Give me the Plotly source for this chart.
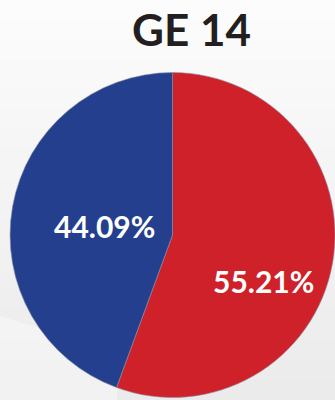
import plotly.graph_objects as go

# Vote share, GE 14
parties = ["Red", "Blue"]
shares = [55.21, 44.09]
colors = ["#cf2129", "#243f8e"]
title_text = "GE 14"

W, H = 335, 400

fig = go.Figure()

fig.add_trace(go.Pie(
    labels=parties,
    values=shares,
    marker=dict(colors=colors, line=dict(color="#8a8fa8", width=0.6)),
    sort=False,
    direction="clockwise",
    rotation=0,
    textinfo="none",
    hoverinfo="label+value",
    showlegend=False,
    domain=dict(x=[0.03, 1.0], y=[0.0, 0.825]),
))

# soft vertical background gradient
shapes = []
n = 40
top = (252, 252, 252)
bot = (235, 235, 235)
for i in range(n):
    t = i / (n - 1)
    c = tuple(round(top[k] + (bot[k] - top[k]) * t) for k in range(3))
    shapes.append(dict(
        type="rect", xref="paper", yref="paper", layer="below",
        x0=0, x1=1, y0=1 - (i + 1) / n, y1=1 - i / n + 0.002,
        line=dict(width=0), fillcolor="rgb(%d,%d,%d)" % c,
    ))
# faint diagonal sheen at lower left
shapes.append(dict(
    type="path", xref="paper", yref="paper", layer="below",
    path="M 0 0.21 L 0.35 0.12 L 0.35 0 L 0 0 Z",
    line=dict(width=0), fillcolor="rgba(255,255,255,0.35)",
))

annotations = [
    dict(text=title_text, x=0.573, y=0.927, xref="paper", yref="paper",
         showarrow=False, xanchor="center", yanchor="middle",
         font=dict(family="Lato", size=44, color="#231f20", weight="bold")),
    dict(text=f"{shares[0]:.2f}%", x=0.788, y=0.297, xref="paper", yref="paper",
         showarrow=False, xanchor="center", yanchor="middle",
         font=dict(family="Lato", size=30, color="white", weight="bold")),
    dict(text=f"{shares[1]:.2f}%", x=0.312, y=0.435, xref="paper", yref="paper",
         showarrow=False, xanchor="center", yanchor="middle",
         font=dict(family="Lato", size=30, color="white", weight="bold")),
]

fig.update_layout(
    width=W, height=H,
    margin=dict(l=0, r=0, t=0, b=0),
    paper_bgcolor="#f3f3f3",
    plot_bgcolor="rgba(0,0,0,0)",
    shapes=shapes,
    annotations=annotations,
)

fig.write_html("out.html")
